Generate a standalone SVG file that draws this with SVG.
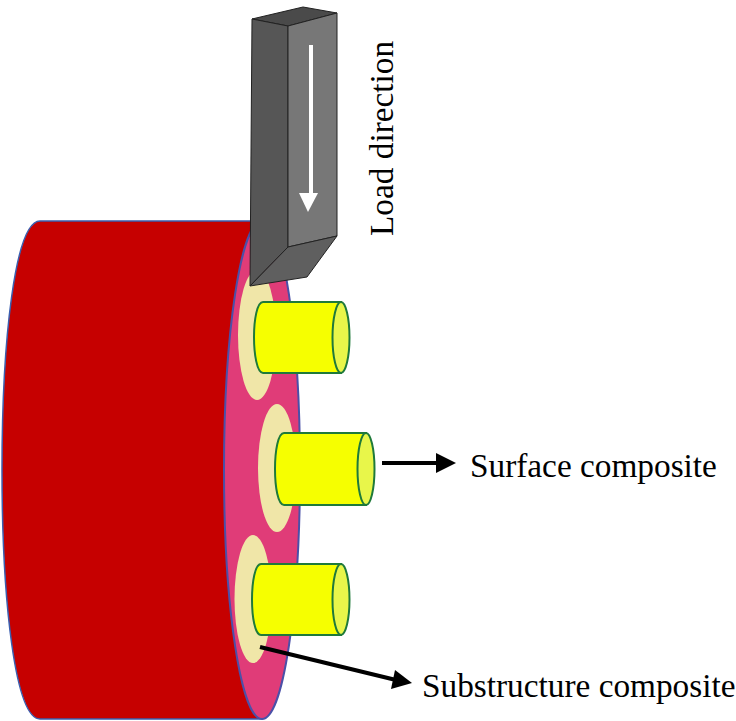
<svg xmlns="http://www.w3.org/2000/svg" width="736" height="721" viewBox="0 0 736 721">
<style>
.cream{fill:#f0e6a8}
.cyl{fill:#f6ff00;stroke:#1f7a3a;stroke-width:2}
.cap{fill:#e8f64a;stroke:#1f7a3a;stroke-width:2}
.lbl{font-family:"Liberation Serif","Times New Roman",serif;font-size:33.300px;fill:#000}
.ln{stroke:#000;stroke-width:4;fill:none}
</style>
<rect width="736" height="721" fill="#fff"/>
<g id="disk">
<path d="M40 221H252L262 719H40C15 719 2 600 2 470S15 221 40 221Z" fill="#c60000" stroke="#3a5fb0" stroke-width="1.500"/>
<ellipse cx="262" cy="470" rx="38" ry="249" fill="#e03c78" stroke="#4a50a8" stroke-width="2"/>
</g>
<g id="collars">
<ellipse class="cream" cx="257" cy="335" rx="19" ry="65"/>
<ellipse class="cream" cx="277" cy="468" rx="19" ry="64"/>
<ellipse class="cream" cx="253" cy="599" rx="18.500" ry="64"/>
</g>
<g id="pin-top">
<path class="cyl" d="M341 302H263C257 302 254 320 254 337S257 373 263 373H341Z"/>
<ellipse class="cap" cx="341" cy="337.500" rx="8.500" ry="35.500"/>
</g>
<g id="pin-middle">
<path class="cyl" d="M366 433H284C278 433 275 451 275 469S278 505 284 505H366Z"/>
<ellipse class="cap" cx="366" cy="469" rx="8.500" ry="36"/>
</g>
<g id="pin-bottom">
<path class="cyl" d="M341 564H261C255 564 252 582 252 599.500S255 635 261 635H341Z"/>
<ellipse class="cap" cx="341" cy="599.500" rx="8.500" ry="35.500"/>
</g>
<g id="block">
<polygon points="252,19 303,7 337,13 288,26" fill="#4a4a4a" stroke="#222" stroke-width="1"/>
<polygon points="252,19 288,26 288,247 250,286" fill="#565656" stroke="#222" stroke-width="1"/>
<polygon points="288,26 337,13 337,236 288,247" fill="#777" stroke="#222" stroke-width="1"/>
<polygon points="288,247 337,236 307,277 250,286" fill="#5f5f5f" stroke="#222" stroke-width="1"/>
<path d="M311 45V195" stroke="#fff" stroke-width="4" fill="none"/>
<polygon points="299,193 318,193 308,212" fill="#fff"/>
</g>
<g id="connectors">
<path class="ln" d="M382 463H438"/>
<polygon points="436,453 456,463 436,473" fill="#000"/>
<path class="ln" d="M260 647L396 680"/>
<polygon points="395,670 412,683 391,689" fill="#000"/>
</g>
<g id="labels">
<text class="lbl" transform="translate(393 236) rotate(-90)">Load direction</text>
<text class="lbl" x="470" y="477">Surface composite</text>
<text class="lbl" x="422" y="697">Substructure composite</text>
</g>
</svg>
